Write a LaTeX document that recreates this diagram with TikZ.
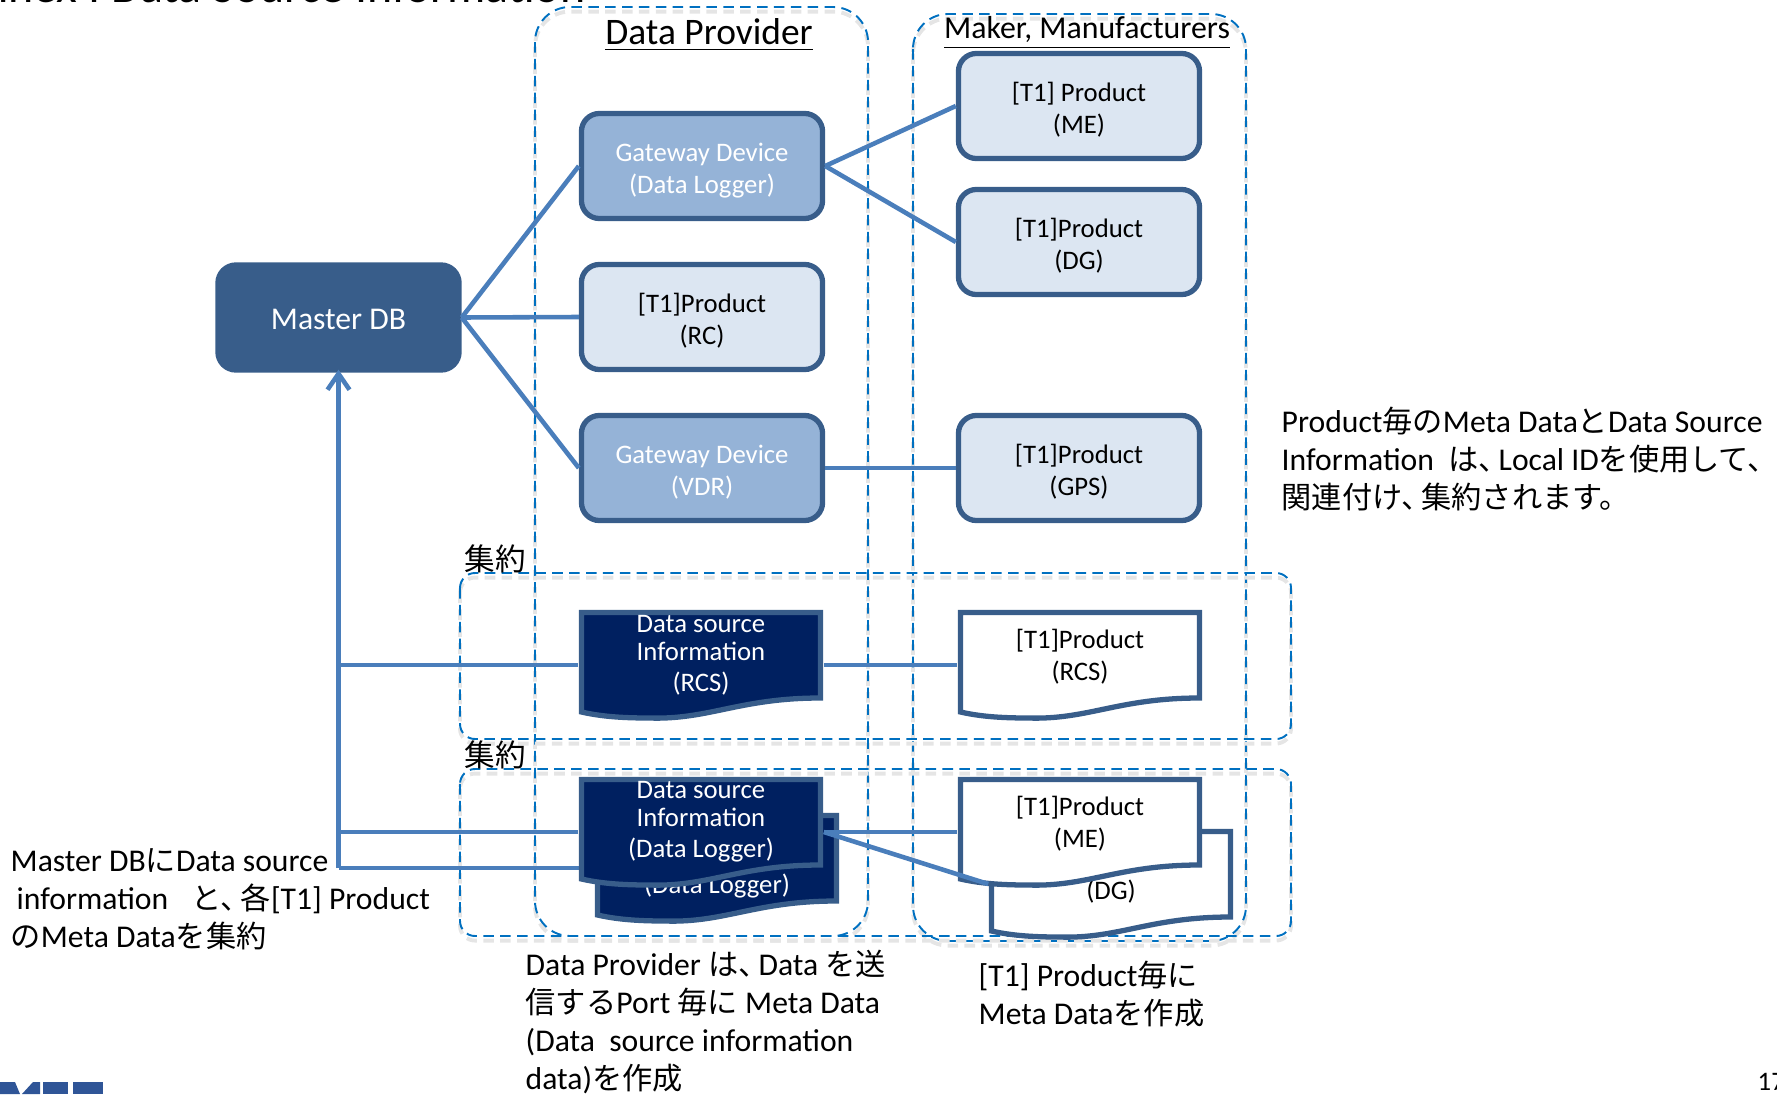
\documentclass[tikz,border=0pt]{standalone}
\usepackage{fontspec}
\setmainfont{Carlito}
\newfontfamily\cjk[Scale=0.955]{Noto Sans CJK JP}
\usetikzlibrary{arrows.meta,calc}

\definecolor{boxedge}{HTML}{385D8A}
\definecolor{linkblue}{HTML}{4A7EBB}
\definecolor{dashblue}{HTML}{0070C0}
\definecolor{lightfill}{HTML}{DCE6F2}
\definecolor{midfill}{HTML}{95B3D7}
\definecolor{darkfill}{HTML}{002060}
\definecolor{logoblue}{HTML}{2F5597}

\newcommand{\jp}[1]{{\cjk #1}}
\newcommand{\jpcomma}{\jp{、}\kern-0.1cm}
\newcommand{\lowertext}{\mbox{}\\[-0.05cm]}

\tikzset{
  groupbox/.style={draw=dashblue,line width=0.55pt,dash pattern=on 3pt off 1.8pt,rounded corners=#1,
    preaction={draw=black!10,line width=1.1pt,dash pattern=on 3pt off 1.8pt,transform canvas={yshift=-1.3pt}}},
  devbox/.style={rectangle,rounded corners=0.18cm,draw=boxedge,line width=1.5pt,minimum width=2.41cm,
    minimum height=1.05cm,align=center,inner sep=0pt,
    font=\fontsize{7.6pt}{9.1pt}\selectfont},
  product/.style={devbox,fill=lightfill},
  gateway/.style={devbox,fill=midfill,text=white},
  docdark/.style={draw=boxedge,line width=1.5pt,fill=darkfill},
  docwhite/.style={draw=boxedge,line width=1.5pt,fill=white},
  doctext/.style={align=center,inner sep=0pt,font=\fontsize{7.6pt}{8pt}\selectfont},
  whitetext/.style={doctext,font=\fontsize{7.6pt}{9.1pt}\selectfont},
  link/.style={draw=linkblue,line width=1.3pt},
  note/.style={anchor=west,align=left,inner sep=0pt,font=\fontsize{9pt}{10.8pt}\selectfont}
}

% document shape: name, left, top, look, text look and colour, raise, text
\newcommand{\docnode}[7]{
  \begin{scope}[shift={(#2,#3)}]
    \draw[#4] (2.5,2.5) -- (241.5,2.5) -- (241.5,88) .. controls (160,88) and (130,110) .. (70,108)
      .. controls (40,108) and (20,106) .. (2.5,102) -- cycle;
    \node[minimum width=2.44cm,minimum height=1.1cm,inner sep=0pt] (#1) at (122,55) {};
    \node[#5] (#1text) at (122,#6) {#7};
  \end{scope}
}

\begin{document}
\begin{tikzpicture}[x=0.01cm,y=-0.01cm]
  \useasboundingbox (0,0) rectangle (1777,1094);

  % Page title, logo and page number run off the edge
  \node[anchor=base west,inner sep=0pt,font=\fontsize{13.6pt}{14pt}\selectfont] (pagetitle) at (-45,3)
    {Annex I Data Source Information};
  \fill[logoblue] (0,1082) -- (15,1082) -- (20,1094) -- (0,1094) -- cycle;
  \fill[logoblue] (22,1094) -- (33,1082) -- (40,1082) -- (40,1094) -- cycle;
  \fill[logoblue] (43,1082) rectangle (68,1094);
  \fill[logoblue] (73,1082) rectangle (103,1094);
  \node[anchor=base west,inner sep=0pt,font=\fontsize{7.6pt}{8pt}\selectfont] (pagenumber) at (1757,1090) {17};

  % Dashed groups
  \draw[groupbox=0.35cm] (535,7) rectangle (868,936);
  \draw[groupbox=0.35cm] (913,14) rectangle (1246,941);
  \draw[groupbox=0.15cm] (460,573) rectangle (1291,739);
  \draw[groupbox=0.15cm] (460,769) rectangle (1291,936);

  \node[inner sep=0pt,font=\fontsize{10.65pt}{12pt}\selectfont] (providertitle) at (709,35) {\underline{Data Provider}};
  \node[inner sep=0pt,font=\fontsize{9.05pt}{10pt}\selectfont] (makertitle) at (1087,33) {\underline{Maker, Manufacturers}};

  % Master DB and devices
  \node[devbox,fill=boxedge,draw=boxedge,text=white,font=\fontsize{9pt}{10pt}\selectfont] (masterdb) at (338.5,317.5) {\rule{0pt}{0.25cm}Master DB};
  \node[gateway] (gwlogger) at (702,166) {\lowertext Gateway Device\\(Data Logger)};
  \node[product] (prodrc) at (702,317) {\lowertext [T1]Product\\(RC)};
  \node[gateway] (gwvdr) at (702,468) {\lowertext Gateway Device\\(VDR)};
  \node[product] (prodme) at (1079,106) {\lowertext [T1] Product\\(ME)};
  \node[product] (proddg) at (1079,242) {\lowertext [T1]Product\\(DG)};
  \node[product] (prodgps) at (1079,468) {\lowertext [T1]Product\\(GPS)};

  \draw[link] (masterdb.east) -- (gwlogger.west);
  \draw[link] (masterdb.east) -- (prodrc.west);
  \draw[link] (masterdb.east) -- (gwvdr.west);
  \draw[link] (gwlogger.east) -- (prodme.west);
  \draw[link] (gwlogger.east) -- (proddg.west);
  \draw[link] (gwvdr.east) -- (prodgps.west);

  % Meta data documents
  \docnode{logbackdoc}{595}{813}{docdark}{doctext,text=white}{45}{Data source\\Information\\[0.03cm](Data Logger)}
  \docnode{dgdoc}{989}{829}{docwhite}{whitetext}{47}{[T1]Product\\(DG)}

  \draw[link] (logbackdoc.west) -- (logbackdoc.west -| masterdb.south) coordinate (trunkend);
  \draw[link,-{Straight Barb[length=0.16cm,width=0.22cm]},shorten >=-0.03cm] (trunkend) -- (masterdb.south);

  \docnode{rcsdoc}{579}{610}{docdark}{doctext,text=white}{45}{Data source\\Information\\[0.03cm](RCS)}
  \docnode{rcswhite}{958}{610}{docwhite}{whitetext}{47}{[T1]Product\\(RCS)}
  \docnode{logdoc}{579}{777}{docdark}{doctext,text=white}{45}{Data source\\Information\\[0.03cm](Data Logger)}
  \docnode{medoc}{958}{777}{docwhite}{whitetext}{47}{[T1]Product\\(ME)}

  \draw[link] (rcsdoc.west) -- (rcsdoc.west -| masterdb.south);
  \draw[link] (logdoc.west) -- (logdoc.west -| masterdb.south);
  \draw[link] (rcsdoc.east) -- (rcswhite.west);
  \draw[link] (logdoc.east) -- (medoc.west);
  \draw[link] (logdoc.east) -- (dgdoc.west);

  % Remarks
  \node[inner sep=0pt,font=\fontsize{9.1pt}{10pt}\selectfont\cjk] (sumtop) at (495,559) {集約};
  \node[inner sep=0pt,font=\fontsize{9.1pt}{10pt}\selectfont\cjk] (sumbottom) at (495,755) {集約};
  \node[note] (noteid) at (1281,459) {Product\jp{毎の}Meta Data\jp{と}Data Source\\Information\ \ \jp{は}\jpcomma Local ID\jp{を使用して、}\\\jp{関連付け}\jpcomma\jp{集約されます。}};
  \node[note] (notemaster) at (10,899) {Master DB\jp{に}Data source\\\hspace{0.06cm}information\ \ \hspace{0.09cm}\jp{と}\jpcomma\jp{各}[T1] Product\\\jp{の}Meta Data\jp{を集約}};
  \node[note] (noteprovider) at (525,1022) {Data Provider \jp{は}\jpcomma Data \jp{を送}\\\jp{信する}Port \jp{毎に} Meta Data\\(Data\ \ source information\\data)\jp{を作成}};
  \node[note] (notemaker) at (978,994) {[T1] Product\jp{毎に}\\Meta Data\jp{を作成}};
\end{tikzpicture}
\end{document}
